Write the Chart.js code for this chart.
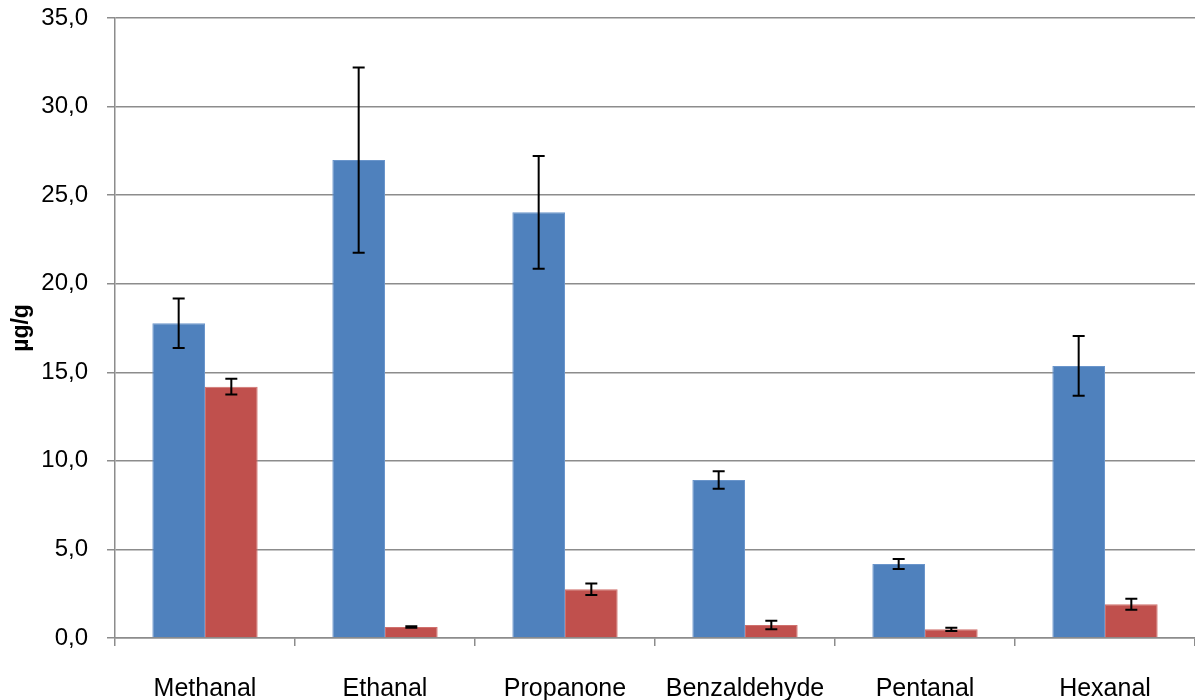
<!DOCTYPE html>
<html>
<head>
<meta charset="utf-8">
<script src="https://cdn.jsdelivr.net/npm/chart.js@4"></script>
<style>
  html, body { margin: 0; padding: 0; background: #fff; }
  #wrap { width: 1195px; height: 700px; position: relative; }
</style>
</head>
<body>
<div id="wrap"><canvas id="c" width="1195" height="700"></canvas></div>
<script>
const categories = ["Methanal", "Ethanal", "Propanone", "Benzaldehyde", "Pentanal", "Hexanal"];
const series1 = [17.77, 26.98, 24.03, 8.92, 4.18, 15.36];
const error1 = [1.40, 5.23, 3.18, 0.50, 0.28, 1.69];
const series2 = [14.19, 0.62, 2.75, 0.73, 0.49, 1.90];
const error2 = [0.44, 0.04, 0.32, 0.24, 0.09, 0.31];
const yTicks = [0, 5, 10, 15, 20, 25, 30, 35];

const errorBarPlugin = {
  id: 'errorBars',
  afterDatasetsDraw(chart) {
    const ctx = chart.ctx;
    const yScale = chart.scales.y;
    chart.data.datasets.forEach((ds, di) => {
      const meta = chart.getDatasetMeta(di);
      meta.data.forEach((bar, i) => {
        const v = ds.data[i], e = ds.errors[i];
        const yt = yScale.getPixelForValue(v + e);
        const yb = yScale.getPixelForValue(v - e);
        const x = bar.x;
        ctx.save();
        ctx.strokeStyle = '#000';
        ctx.lineWidth = 2;
        ctx.beginPath();
        ctx.moveTo(x, yt); ctx.lineTo(x, yb);
        ctx.moveTo(x - 6, yt); ctx.lineTo(x + 6, yt);
        ctx.moveTo(x - 6, yb); ctx.lineTo(x + 6, yb);
        ctx.stroke();
        ctx.restore();
      });
    });
  }
};

new Chart(document.getElementById('c'), {
  type: 'bar',
  data: {
    labels: categories,
    datasets: [
      { label: 'Series 1', data: series1, errors: error1, backgroundColor: '#4F81BD', borderColor: '#6A95CB', borderWidth: 1 },
      { label: 'Series 2', data: series2, errors: error2, backgroundColor: '#C0504D', borderColor: '#D0706D', borderWidth: 1 }
    ]
  },
  options: {
    responsive: false,
    animation: false,
    layout: { padding: { top: 0, right: 0, left: 0, bottom: 0 } },
    plugins: { legend: { display: false }, tooltip: { enabled: false } },
    datasets: { bar: { categoryPercentage: 0.585, barPercentage: 1.0 } },
    scales: {
      x: {
        afterFit: (s) => { s.height = 62; },
        grid: { offset: true, drawOnChartArea: false, drawTicks: true, tickLength: 8, color: '#8c8c8c', lineWidth: 1.5 },
        border: { color: '#8c8c8c', width: 1.5 },
        ticks: { color: '#000', font: { family: 'Liberation Sans', size: 25 }, padding: 28, maxRotation: 0, autoSkip: false }
      },
      y: {
        min: 0, max: 35,
        afterBuildTicks: (s) => { s.ticks = yTicks.map(v => ({ value: v })); },
        afterFit: (s) => { s.width = 115; s.paddingTop = 18; s.paddingBottom = 0; },
        grid: { color: '#8c8c8c', lineWidth: 1.5, tickLength: 8 },
        border: { color: '#8c8c8c', width: 1.5 },
        ticks: { color: '#000', font: { family: 'Liberation Sans', size: 24 }, padding: 19,
                 callback: (v) => Number(v).toFixed(1).replace('.', ',') },
        title: { display: true, text: 'µg/g', color: '#000', font: { family: 'Liberation Sans', size: 23, weight: 'bold' }, padding: { top: 8, bottom: 0 } }
      }
    }
  },
  plugins: [errorBarPlugin]
});
</script>
</body>
</html>
